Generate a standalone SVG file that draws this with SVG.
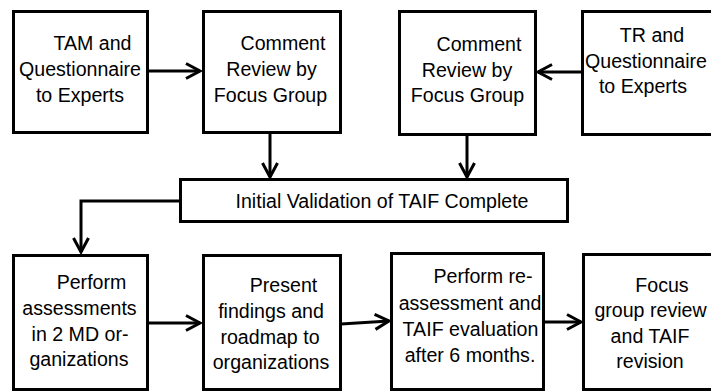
<svg xmlns="http://www.w3.org/2000/svg" width="711" height="392" viewBox="0 0 711 392">
<style>
.box{fill:#fff;stroke:#000;stroke-width:3}
.t{font-family:"Liberation Sans",Arial,sans-serif;font-size:19.6px;fill:#000;text-anchor:middle}
.c{fill:none;stroke:#000;stroke-width:3}
</style>
<defs>
<marker id="ah" markerUnits="userSpaceOnUse" markerWidth="20" markerHeight="20" viewBox="0 0 20 20" refX="16" refY="10" orient="auto">
<path d="M2,2.5 L16,10 L2,17.5" fill="none" stroke="#000" stroke-width="3"/>
</marker>
</defs>
<rect width="711" height="392" fill="#fff"/>
<g id="n1"><rect class="box" x="13.5" y="11.5" width="134" height="121"/>
<text class="t" x="92.5" y="50">TAM and</text><text class="t" x="80" y="76">Questionnaire</text><text class="t" x="80" y="102">to Experts</text></g>
<g id="n2"><rect class="box" x="203.5" y="11.5" width="137" height="121"/>
<text class="t" x="283" y="50">Comment</text><text class="t" x="271.5" y="76">Review by</text><text class="t" x="270.5" y="102">Focus Group</text></g>
<g id="n3"><rect class="box" x="399.5" y="11.5" width="136" height="123"/>
<text class="t" x="479" y="51">Comment</text><text class="t" x="467" y="77">Review by</text><text class="t" x="467.5" y="102">Focus Group</text></g>
<g id="n4"><rect class="box" x="582.5" y="11.5" width="140" height="123"/>
<text class="t" x="652" y="42">TR and</text><text class="t" x="646" y="68">Questionnaire</text><text class="t" x="643" y="93">to Experts</text></g>
<g id="n5"><rect class="box" x="180.5" y="179.5" width="387" height="42"/>
<text class="t" x="382" y="208">Initial Validation of TAIF Complete</text></g>
<g id="n6"><rect class="box" x="13.5" y="255.5" width="134" height="134"/>
<text class="t" x="91.5" y="289">Perform</text><text class="t" x="79.5" y="315">assessments</text><text class="t" x="80" y="341">in 2 MD or-</text><text class="t" x="79" y="366">ganizations</text></g>
<g id="n7"><rect class="box" x="203.5" y="255.5" width="137" height="134"/>
<text class="t" x="283.5" y="292">Present</text><text class="t" x="271" y="318">findings and</text><text class="t" x="270" y="344">roadmap to</text><text class="t" x="271" y="369">organizations</text></g>
<g id="n8"><rect class="box" x="391.5" y="253.5" width="152" height="136"/>
<text class="t" x="483" y="283">Perform re-</text><text class="t" x="470" y="310">assessment and</text><text class="t" x="470.5" y="336">TAIF evaluation</text><text class="t" x="470" y="362">after 6 months.</text></g>
<g id="n9"><rect class="box" x="583.5" y="254.5" width="140" height="135"/>
<text class="t" x="662" y="292">Focus</text><text class="t" x="650.5" y="317">group review</text><text class="t" x="650" y="343">and TAIF</text><text class="t" x="650" y="368">revision</text></g>
<g id="connectors">
<line class="c" x1="148" y1="71" x2="200" y2="71" marker-end="url(#ah)"/>
<line class="c" x1="581" y1="72" x2="538" y2="72" marker-end="url(#ah)"/>
<line class="c" x1="270" y1="134" x2="270" y2="177" marker-end="url(#ah)"/>
<line class="c" x1="467" y1="135" x2="467" y2="177" marker-end="url(#ah)"/>
<path class="c" d="M180,201 H81 V252" marker-end="url(#ah)"/>
<line class="c" x1="148" y1="323" x2="200" y2="323" marker-end="url(#ah)"/>
<line class="c" x1="341" y1="324" x2="389" y2="321" marker-end="url(#ah)"/>
<line class="c" x1="544" y1="322" x2="581" y2="322" marker-end="url(#ah)"/>
</g>
</svg>
